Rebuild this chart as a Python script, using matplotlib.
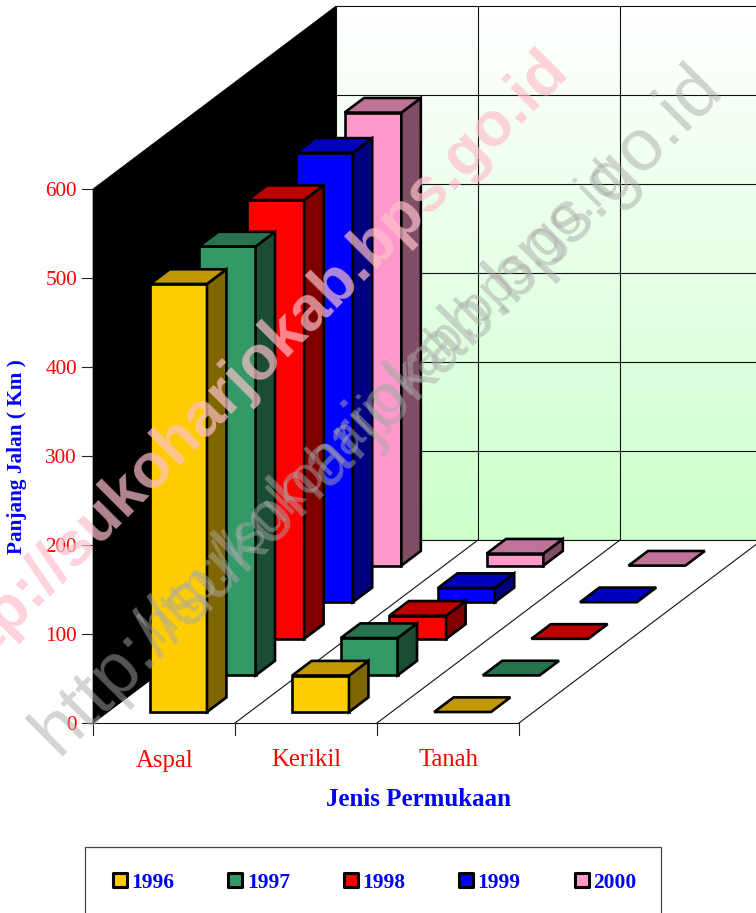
import numpy as np
import matplotlib
matplotlib.use("Agg")
import matplotlib.pyplot as plt
from matplotlib.patches import Polygon, Rectangle
from matplotlib.colors import to_rgb

categories = ["Aspal", "Kerikil", "Tanah"]
years = ["1996", "1997", "1998", "1999", "2000"]
values_1996 = [481, 41, 0]
values_1997 = [482, 42, 0]
values_1998 = [493, 26, 0]
values_1999 = [505, 16, 0]
values_2000 = [509, 13.5, 0]
series = [values_1996, values_1997, values_1998, values_1999, values_2000]
colors = ["#FFCC00", "#339966", "#FF0000", "#0000FF", "#FF99CC"]
y_ticks = [0, 100, 200, 300, 400, 500, 600]
x_title = "Jenis Permukaan"
y_title = "Panjang Jalan ( Km )"
watermark = "http://sukoharjokab.bps.go.id"

SERIF = "Liberation Serif"
SANS = "Liberation Sans"

# oblique projection of the chart box onto the page (pixel space)
X0, Y0 = 93, 723
CAT_W = 142
DX, DY = 243 / 5, 183 / 5
Y_SCALE = 534 / 600


def P(c, d, v=0):
    return (X0 + CAT_W * c + DX * d, Y0 - Y_SCALE * v - DY * d)


fig = plt.figure(figsize=(7.56, 9.13), dpi=100)
ax = fig.add_axes([0, 0, 1, 1])
ax.set_axis_off()

nc, ns = len(categories), len(years)
vmax = y_ticks[-1]

# back wall gradient
top = np.array([1, 1, 1.0])
bot = np.array(to_rgb("#CCFFCC"))
t = np.linspace(0, 1, 256)[:, None, None]
grad = top[None, None, :] * (1 - t) + bot[None, None, :] * t
(bx0, by1), (bx1, by0) = P(0, ns, vmax), P(nc, ns, 0)
ax.imshow(grad, extent=(bx0, bx1, by0, by1), aspect="auto", zorder=1, interpolation="bilinear")
ax.set_xlim(0, 756)
ax.set_ylim(913, 0)

thin = dict(color="#111111", lw=0.8, zorder=2, solid_capstyle="butt")
for v in y_ticks:
    a, b = P(0, ns, v), P(nc, ns, v)
    ax.plot([a[0], b[0]], [a[1], b[1]], **thin)
for c in range(nc + 1):
    a, b = P(c, ns, 0), P(c, ns, vmax)
    ax.plot([a[0], b[0]], [a[1], b[1]], **thin)

# left wall
ax.add_patch(Polygon([P(0, 0, 0), P(0, 0, vmax), P(0, ns, vmax), P(0, ns, 0)],
                     closed=True, fc="black", ec="black", lw=0.5, zorder=3))
# floor
ax.add_patch(Polygon([P(0, 0), P(nc, 0), P(nc, ns), P(0, ns)],
                     closed=True, fc="white", ec="none", zorder=2.5))
a, b = P(0, ns), P(nc, ns)
ax.plot([a[0], b[0]], [a[1], b[1]], color="#111111", lw=0.8, zorder=2.6)
for c in range(nc + 1):
    a, b = P(c, 0), P(c, ns)
    ax.plot([a[0], b[0]], [a[1], b[1]], color="#111111", lw=0.8, zorder=2.6)
a, b = P(0, 0), P(nc, 0)
ax.plot([a[0], b[0]], [a[1], b[1]], color="#111111", lw=0.8, zorder=2.6)

# ticks and labels
tk = dict(color="#222222", lw=0.8, zorder=4)
for v in y_ticks:
    x, y = P(0, 0, v)
    ax.plot([x - 11, x], [y, y], **tk)
    ax.text(x - 16, y, str(v), color="red", family=SERIF, fontsize=15.3, ha="right", va="center_baseline", zorder=5)
for c in range(nc + 1):
    x, y = P(c, 0, 0)
    ax.plot([x, x], [y, y + 12], **tk)
for c, name in enumerate(categories):
    x, y = P(c + 0.5, 0, 0)
    ax.text(x + 0.5, y + 35, name, color="red", family=SERIF, fontsize=17.8, ha="center", va="center_baseline", zorder=5)

ax.text(418.5, 797.5, x_title, color="blue", family=SERIF, weight="bold", fontsize=18, ha="center", va="center_baseline", zorder=5)
ax.text(17, 457, y_title, color="blue", family=SERIF, weight="bold", fontsize=15.3, rotation=90, ha="center", va="center", zorder=5)


def shade(col, f):
    return tuple(ch * f for ch in to_rgb(col))


# bars, back row first
z = 6
for c in range(nc):
    for s in range(ns - 1, -1, -1):
        v = series[s][c]
        col = colors[s]
        c0, c1 = c + 0.3, c + 0.7
        d0, d1 = s + 0.3, s + 0.7
        edge = dict(ec="black", lw=1.9, joinstyle="miter", closed=True)
        if v > 0:
            ax.add_patch(Polygon([P(c0, d0, 0), P(c1, d0, 0), P(c1, d0, v), P(c0, d0, v)], fc=col, zorder=z, **edge))
            ax.add_patch(Polygon([P(c1, d0, 0), P(c1, d1, 0), P(c1, d1, v), P(c1, d0, v)], fc=shade(col, 0.5), zorder=z, **edge))
        ax.add_patch(Polygon([P(c0, d0, v), P(c1, d0, v), P(c1, d1, v), P(c0, d1, v)], fc=shade(col, 0.75), zorder=z, **edge))
        z += 1

# legend box: its lower edge lies below the page
ax.add_patch(Rectangle((84.5, 847), 576.5, 80, fc="white", ec="#444444", lw=0.9, zorder=5, clip_on=True))
for i, (yr, col) in enumerate(zip(years, colors)):
    x = 112.5 + 115.4 * i
    ax.add_patch(Rectangle((x + 0.5, 873), 14, 14, fc=col, ec="black", lw=2.2, joinstyle="round", zorder=6))
    ax.text(x + 19, 881, yr, color="blue", family=SERIF, weight="bold", fontsize=15.5, ha="left", va="center_baseline", zorder=6)

# watermarks, anchored at the end of the baseline
wm = dict(rotation=45, rotation_mode="anchor", ha="right", va="baseline", family=SANS, zorder=50, clip_on=False)
ax.text(570, 71, watermark, color="#FFC0CB", alpha=0.7, weight="bold", fontsize=45, **wm)
ax.text(725, 90, watermark, color="#A9A9A9", alpha=0.5, fontsize=53, **wm)
ax.text(625, 178, watermark, color="#A9A9A9", alpha=0.5, fontsize=37, **wm)

fig.savefig("out.png", dpi=100)
